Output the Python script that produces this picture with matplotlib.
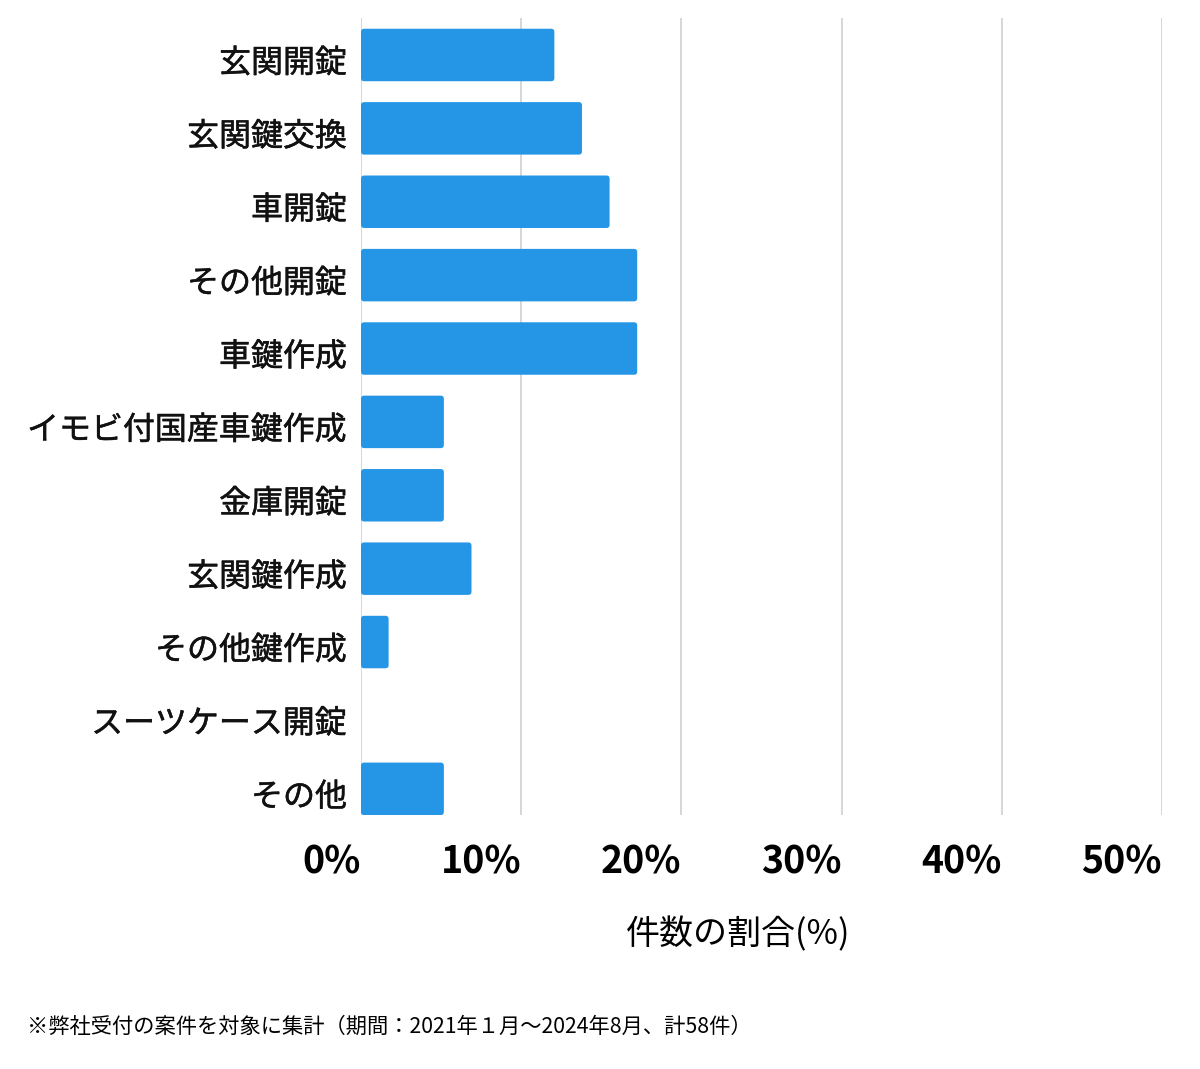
import matplotlib.pyplot as plt
from matplotlib.ticker import FixedLocator
from matplotlib.patches import FancyBboxPatch
import matplotlib.transforms as mtransforms
import matplotlib.patheffects as pe

plt.rcParams['font.family'] = ['Noto Sans CJK JP', 'DejaVu Sans']

# data (58 cases total)
categories = ['玄関開錠', '玄関鍵交換', '車開錠', 'その他開錠', '車鍵作成',
              'イモビ付国産車鍵作成', '金庫開錠', '玄関鍵作成', 'その他鍵作成',
              'スーツケース開錠', 'その他']
counts = [7, 8, 9, 10, 10, 3, 3, 4, 1, 0, 3]
total = 58
shares = [c / total * 100 for c in counts]
xticks = [0, 10, 20, 30, 40, 50]
xticklabels = ['0%', '10%', '20%', '30%', '40%', '50%']

W, H = 1200, 1069
fig = plt.figure(figsize=(W / 100, H / 100), dpi=100)
ax = fig.add_axes([361 / W, 1 - 815 / H, (1162 - 361) / W, (815 - 18) / H])

ypos = list(range(len(categories)))
bars = ax.barh(ypos, shares, height=0.715, color='#2595e5', zorder=3)

# small rounded corners on the bars
for b in bars:
    if b.get_width() <= 0:
        continue
    b.set_visible(False)
    p = FancyBboxPatch((b.get_x(), b.get_y()), b.get_width(), b.get_height(),
                       boxstyle='round,pad=0,rounding_size=0.2',
                       mutation_aspect=16 / 73.4, facecolor='#2595e5',
                       edgecolor='none', zorder=3)
    ax.add_patch(p)

ax.set_xlim(0, 50)
ax.set_ylim(len(categories) - 1 + 0.357, -0.504)
ax.xaxis.set_major_locator(FixedLocator(xticks))
ax.set_xticklabels(xticklabels, fontsize=27, fontweight='bold', ha='right')
ax.tick_params(axis='x', length=0, pad=20)
ax.set_yticks(ypos)
ax.set_yticklabels(categories, fontsize=23, color='#111111')
ax.tick_params(axis='y', length=0, pad=10)
shift = mtransforms.ScaledTranslation(0, -5 / 100, fig.dpi_scale_trans)
for lab in ax.get_yticklabels():
    lab.set_transform(lab.get_transform() + shift)
    lab.set_path_effects([pe.withStroke(linewidth=0.35, foreground='#111111')])
ax.grid(axis='x', color='#d0d0d0', linewidth=1.2, zorder=0)
for s in ax.spines.values():
    s.set_visible(False)

fig.text(738 / W, 1 - 935 / H, '件数の割合(%)', fontsize=24.5, ha='center', va='center')
fig.text(27 / W, 1 - 1027 / H,
         '※弊社受付の案件を対象に集計（期間：2021年１月〜2024年8月、計58件）',
         fontsize=15.3, ha='left', va='center')

fig.savefig('out.png', dpi=100, facecolor='white')
